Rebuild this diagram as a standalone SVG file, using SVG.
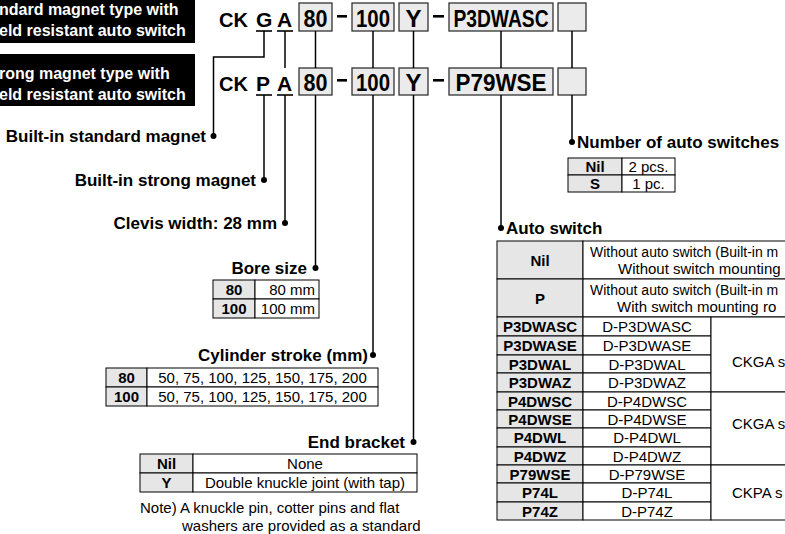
<svg xmlns="http://www.w3.org/2000/svg" width="785" height="534" viewBox="0 0 785 534">
<style>
text{font-family:"Liberation Sans",Arial,Helvetica,sans-serif;fill:#000}
.wt{font-size:16px;font-weight:bold;fill:#fff}
.code{font-size:21px;font-weight:bold}
.bx{font-size:24px;font-weight:bold;text-anchor:middle}
.lbl{font-size:17px;font-weight:bold}
.end{text-anchor:end}
.tb{font-size:15px;font-weight:bold;text-anchor:middle}
.tr{font-size:15px;text-anchor:middle}
.trs{font-size:15px}
.trn{font-size:14px}
.box{fill:#ebebeb;stroke:#333;stroke-width:1.3}
.hd{fill:#e6e6e6;stroke:#000;stroke-width:1}
.cell{fill:#fff;stroke:#000;stroke-width:1}
.ln{stroke:#000;stroke-width:1.5;fill:none}
.ul{stroke:#000;stroke-width:1.6}
.dot{fill:#000}
.dash{fill:#000}
</style>

<g id="banner-standard">
<rect x="0" y="-10" width="195" height="53" fill="#000"/>
<text class="wt" x="-1" y="15">ndard magnet type with</text>
<text class="wt" x="-1" y="36">eld resistant auto switch</text>
</g>
<g id="banner-strong">
<rect x="0" y="54" width="195" height="52" fill="#000"/>
<text class="wt" x="-1" y="79">rong magnet type with</text>
<text class="wt" x="-1" y="100">eld resistant auto switch</text>
</g>

<g id="code-row-1">
<text class="code" x="219" y="27" textLength="29" lengthAdjust="spacingAndGlyphs">CK</text>
<text class="code" x="256" y="27">G</text>
<text class="code" x="277" y="27">A</text>
<line class="ul" x1="256" y1="31" x2="272" y2="31"/>
<line class="ul" x1="277" y1="31" x2="293" y2="31"/>
<rect class="box" x="299" y="3" width="33" height="28"/>
<text class="bx" x="315.5" y="27" textLength="24" lengthAdjust="spacingAndGlyphs">80</text>
<rect class="dash" x="337" y="15" width="10" height="2.6"/>
<rect class="box" x="352" y="3" width="42" height="28"/>
<text class="bx" x="373" y="27" textLength="34" lengthAdjust="spacingAndGlyphs">100</text>
<rect class="box" x="399" y="3" width="29" height="28"/>
<text class="bx" x="413.5" y="27">Y</text>
<rect class="dash" x="433" y="15" width="11" height="2.6"/>
<rect class="box" x="449" y="3" width="104" height="28"/>
<text class="bx" x="501" y="27" textLength="95" lengthAdjust="spacingAndGlyphs">P3DWASC</text>
<rect class="box" x="558" y="3" width="28" height="28"/>
</g>

<g id="code-row-2">
<text class="code" x="219" y="91" textLength="29" lengthAdjust="spacingAndGlyphs">CK</text>
<text class="code" x="256" y="91">P</text>
<text class="code" x="277" y="91">A</text>
<line class="ul" x1="256" y1="95" x2="272" y2="95"/>
<line class="ul" x1="277" y1="95" x2="293" y2="95"/>
<rect class="box" x="299" y="68" width="33" height="27"/>
<text class="bx" x="315.5" y="91" textLength="24" lengthAdjust="spacingAndGlyphs">80</text>
<rect class="dash" x="337" y="79" width="10" height="2.6"/>
<rect class="box" x="352" y="68" width="42" height="27"/>
<text class="bx" x="373" y="91" textLength="34" lengthAdjust="spacingAndGlyphs">100</text>
<rect class="box" x="399" y="68" width="29" height="27"/>
<text class="bx" x="413.5" y="91">Y</text>
<rect class="dash" x="433" y="79" width="11" height="2.6"/>
<rect class="box" x="449" y="68" width="104" height="27"/>
<text class="bx" x="501" y="91" textLength="91" lengthAdjust="spacingAndGlyphs">P79WSE</text>
<rect class="box" x="558" y="68" width="28" height="27"/>
</g>

<g id="connectors">
<path class="ln" d="M264,31 V57 H213.5 V136"/>
<path class="ln" d="M285,31 V68"/>
<path class="ln" d="M315.5,31 V68"/>
<path class="ln" d="M373,31 V68"/>
<path class="ln" d="M413.5,31 V68"/>
<path class="ln" d="M501,31 V68"/>
<path class="ln" d="M572,31 V68"/>
<path class="ln" d="M264,95 V180"/>
<path class="ln" d="M285,95 V223"/>
<path class="ln" d="M315.5,95 V268"/>
<path class="ln" d="M373,95 V355"/>
<path class="ln" d="M413.5,95 V442"/>
<path class="ln" d="M501,95 V228"/>
<path class="ln" d="M572,95 V142"/>
<circle class="dot" cx="213.5" cy="136" r="3"/>
<circle class="dot" cx="264" cy="180" r="3"/>
<circle class="dot" cx="285" cy="223" r="3"/>
<circle class="dot" cx="315.5" cy="268" r="3"/>
<circle class="dot" cx="373" cy="355" r="3"/>
<circle class="dot" cx="413.5" cy="442" r="3"/>
<circle class="dot" cx="501" cy="228" r="3"/>
<circle class="dot" cx="572" cy="142" r="3"/>
</g>

<g id="built-in-standard-magnet">
<text class="lbl end" x="206" y="142">Built-in standard magnet</text>
</g>
<g id="built-in-strong-magnet">
<text class="lbl end" x="256" y="186">Built-in strong magnet</text>
</g>
<g id="clevis-width">
<text class="lbl end" x="277" y="229">Clevis width: 28 mm</text>
</g>

<g id="bore-size">
<text class="lbl end" x="307" y="274">Bore size</text>
<rect class="hd" x="213" y="280" width="42" height="19"/>
<rect class="cell" x="255" y="280" width="64" height="19"/>
<rect class="hd" x="213" y="299" width="42" height="19"/>
<rect class="cell" x="255" y="299" width="64" height="19"/>
<text class="tb" x="234" y="295">80</text>
<text class="trs end" x="315" y="295">80 mm</text>
<text class="tb" x="234" y="314">100</text>
<text class="trs end" x="315" y="314">100 mm</text>
</g>

<g id="cylinder-stroke">
<text class="lbl end" x="368" y="361">Cylinder stroke (mm)</text>
<rect class="hd" x="106" y="368" width="41" height="19"/>
<rect class="cell" x="147" y="368" width="231" height="19"/>
<rect class="hd" x="106" y="387" width="41" height="19"/>
<rect class="cell" x="147" y="387" width="231" height="19"/>
<text class="tb" x="126.5" y="383">80</text>
<text class="tr" x="262.5" y="383">50, 75, 100, 125, 150, 175, 200</text>
<text class="tb" x="126.5" y="402">100</text>
<text class="tr" x="262.5" y="402">50, 75, 100, 125, 150, 175, 200</text>
</g>

<g id="end-bracket">
<text class="lbl end" x="405" y="448">End bracket</text>
<rect class="hd" x="140" y="454" width="53" height="19"/>
<rect class="cell" x="193" y="454" width="224" height="19"/>
<rect class="hd" x="140" y="473" width="53" height="19"/>
<rect class="cell" x="193" y="473" width="224" height="19"/>
<text class="tb" x="166.5" y="469">Nil</text>
<text class="tr" x="305" y="469">None</text>
<text class="tb" x="166.5" y="488">Y</text>
<text class="tr" x="305" y="488">Double knuckle joint (with tap)</text>
<text class="trs" x="140" y="513">Note) A knuckle pin, cotter pins and flat</text>
<text class="trs" x="182" y="531">washers are provided as a standard</text>
</g>

<g id="number-of-auto-switches">
<text class="lbl" x="577" y="148">Number of auto switches</text>
<rect class="hd" x="568" y="158" width="54" height="17"/>
<rect class="cell" x="622" y="158" width="53" height="17"/>
<rect class="hd" x="568" y="175" width="54" height="17"/>
<rect class="cell" x="622" y="175" width="53" height="17"/>
<text class="tb" x="595" y="171.5">Nil</text>
<text class="tr" x="648.5" y="171.5">2 pcs.</text>
<text class="tb" x="595" y="188.5">S</text>
<text class="tr" x="648.5" y="188.5">1 pc.</text>
</g>

<g id="auto-switch">
<text class="lbl" x="506" y="234">Auto switch</text>
<rect class="hd" x="497" y="241" width="86" height="38"/>
<rect class="cell" x="583" y="241" width="220" height="38"/>
<rect class="hd" x="497" y="279" width="86" height="38"/>
<rect class="cell" x="583" y="279" width="220" height="38"/>
<text class="tb" x="540" y="265.5">Nil</text>
<text class="trn" x="590" y="257">Without auto switch (Built-in m</text>
<text class="trs" x="618" y="274">Without switch mounting</text>
<text class="tb" x="540" y="303.5">P</text>
<text class="trn" x="590" y="295">Without auto switch (Built-in m</text>
<text class="trs" x="617" y="312">With switch mounting ro</text>

<rect class="hd" x="497" y="317" width="86" height="19"/>
<rect class="cell" x="583" y="317" width="128" height="19"/>
<rect class="hd" x="497" y="336" width="86" height="19"/>
<rect class="cell" x="583" y="336" width="128" height="19"/>
<rect class="hd" x="497" y="355" width="86" height="18"/>
<rect class="cell" x="583" y="355" width="128" height="18"/>
<rect class="hd" x="497" y="373" width="86" height="19"/>
<rect class="cell" x="583" y="373" width="128" height="19"/>
<rect class="hd" x="497" y="392" width="86" height="18"/>
<rect class="cell" x="583" y="392" width="128" height="18"/>
<rect class="hd" x="497" y="410" width="86" height="18"/>
<rect class="cell" x="583" y="410" width="128" height="18"/>
<rect class="hd" x="497" y="428" width="86" height="19"/>
<rect class="cell" x="583" y="428" width="128" height="19"/>
<rect class="hd" x="497" y="447" width="86" height="18"/>
<rect class="cell" x="583" y="447" width="128" height="18"/>
<rect class="hd" x="497" y="465" width="86" height="18"/>
<rect class="cell" x="583" y="465" width="128" height="18"/>
<rect class="hd" x="497" y="483" width="86" height="19"/>
<rect class="cell" x="583" y="483" width="128" height="19"/>
<rect class="hd" x="497" y="502" width="86" height="18"/>
<rect class="cell" x="583" y="502" width="128" height="18"/>
<rect class="cell" x="711" y="317" width="100" height="75"/>
<rect class="cell" x="711" y="392" width="100" height="73"/>
<rect class="cell" x="711" y="465" width="100" height="55"/>

<text class="tb" x="540" y="332">P3DWASC</text>
<text class="tr" x="647" y="332">D-P3DWASC</text>
<text class="tb" x="540" y="351">P3DWASE</text>
<text class="tr" x="647" y="351">D-P3DWASE</text>
<text class="tb" x="540" y="369.5">P3DWAL</text>
<text class="tr" x="647" y="369.5">D-P3DWAL</text>
<text class="tb" x="540" y="388">P3DWAZ</text>
<text class="tr" x="647" y="388">D-P3DWAZ</text>
<text class="tb" x="540" y="406.5">P4DWSC</text>
<text class="tr" x="647" y="406.5">D-P4DWSC</text>
<text class="tb" x="540" y="424.5">P4DWSE</text>
<text class="tr" x="647" y="424.5">D-P4DWSE</text>
<text class="tb" x="540" y="443">P4DWL</text>
<text class="tr" x="647" y="443">D-P4DWL</text>
<text class="tb" x="540" y="461.5">P4DWZ</text>
<text class="tr" x="647" y="461.5">D-P4DWZ</text>
<text class="tb" x="540" y="479.5">P79WSE</text>
<text class="tr" x="647" y="479.5">D-P79WSE</text>
<text class="tb" x="540" y="498">P74L</text>
<text class="tr" x="647" y="498">D-P74L</text>
<text class="tb" x="540" y="516.5">P74Z</text>
<text class="tr" x="647" y="516.5">D-P74Z</text>
<text class="trs" x="732" y="367">CKGA s</text>
<text class="trs" x="732" y="429">CKGA s</text>
<text class="trs" x="732" y="498">CKPA s</text>
</g>
</svg>
